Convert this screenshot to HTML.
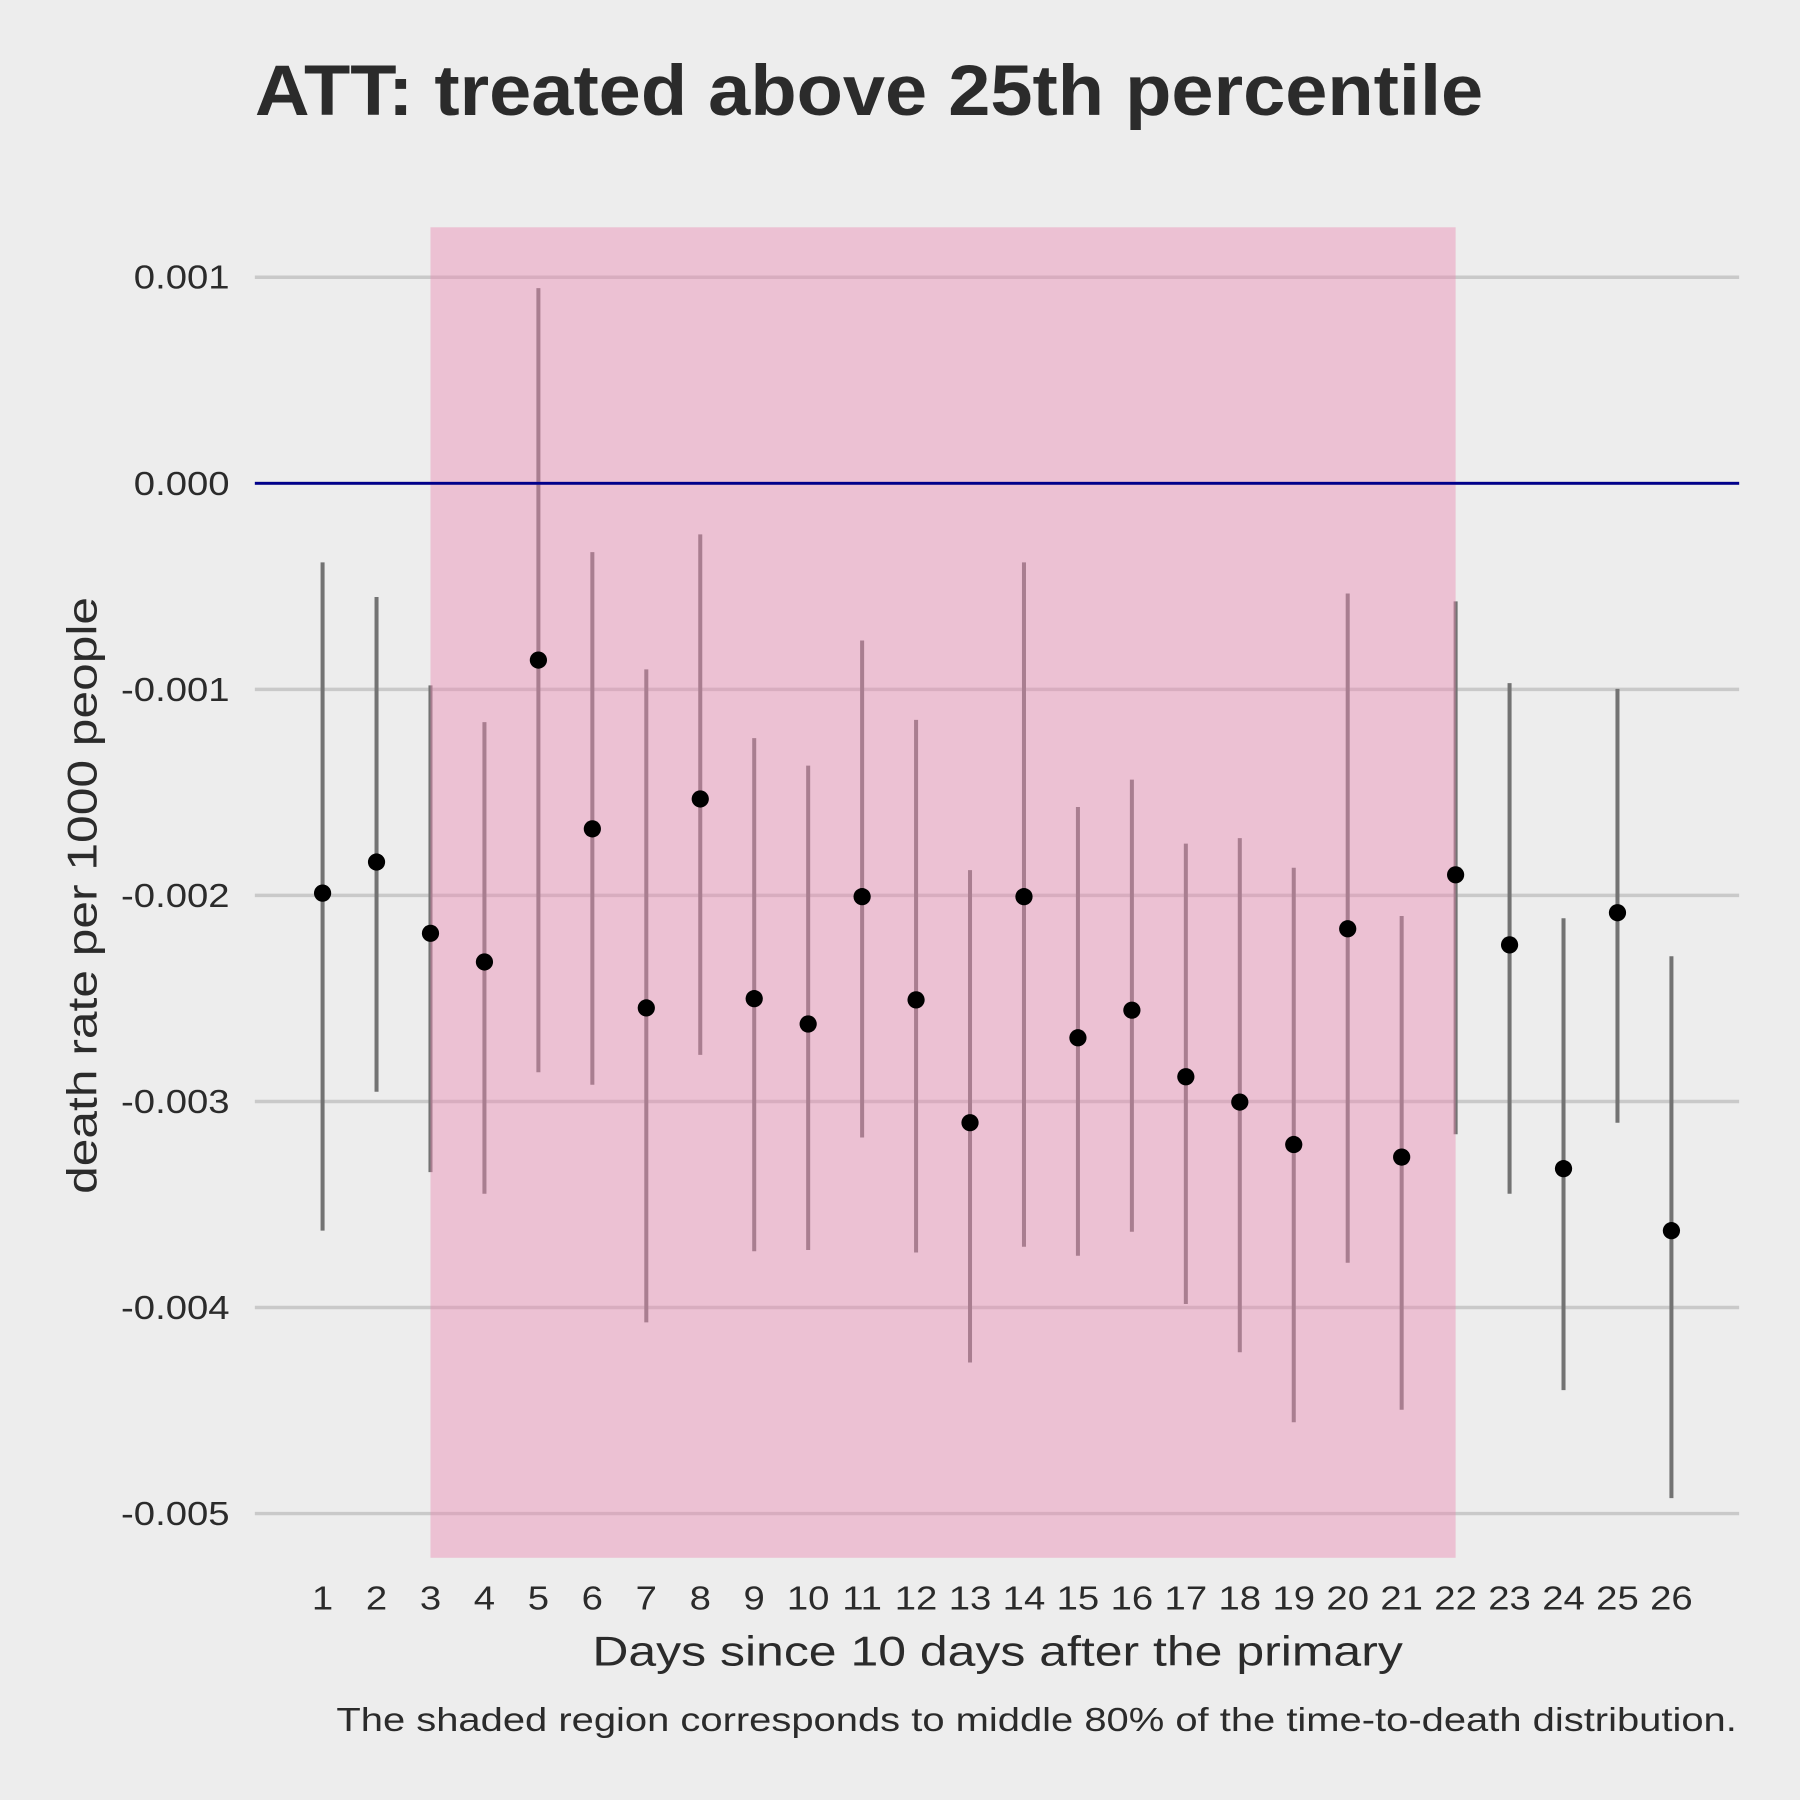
<!DOCTYPE html>
<html><head><meta charset="utf-8"><style>
html,body{margin:0;padding:0;background:#ededed;}
svg{display:block;font-family:"Liberation Sans",sans-serif;}
</style></head><body>
<svg id="chart" width="1800" height="1800" viewBox="0 0 1568 1568" xmlns="http://www.w3.org/2000/svg">
<rect width="1568" height="1568" fill="#ededed"/>
<text x="222" y="100" font-size="62" font-weight="bold" fill="#2b2b2b" textLength="1070" lengthAdjust="spacingAndGlyphs">ATT: treated above 25th percentile</text>
<g id="grid"></g><g id="bars"></g><g id="shade"></g><g id="zero"></g><g id="points"></g><g id="yticks"></g><g id="xticks"></g>
<text x="516" y="1451" font-size="36" fill="#2b2b2b" textLength="706" lengthAdjust="spacingAndGlyphs">Days since 10 days after the primary</text>
<text transform="translate(84,1040) rotate(-90)" font-size="36" fill="#2b2b2b" textLength="520" lengthAdjust="spacingAndGlyphs">death rate per 1000 people</text>
<text x="293" y="1508" font-size="29" fill="#2b2b2b" textLength="1220" lengthAdjust="spacingAndGlyphs">The shaded region corresponds to middle 80% of the time-to-death distribution.</text>
</svg>
<script>
const days = [1,2,3,4,5,6,7,8,9,10,11,12,13,14,15,16,17,18,19,20,21,22,23,24,25,26];
const estimates = [-1.989,-1.838,-2.184,-2.323,-0.858,-1.677,-2.546,-1.532,-2.501,-2.624,-2.006,-2.507,-3.103,-2.006,-2.691,-2.557,-2.880,-3.003,-3.209,-2.162,-3.270,-1.900,-2.240,-3.326,-2.084,-3.627];
const lower = [-3.627,-2.953,-3.343,-3.448,-2.858,-2.919,-4.072,-2.774,-3.727,-3.721,-3.175,-3.733,-4.267,-3.705,-3.749,-3.632,-3.983,-4.217,-4.557,-3.783,-4.496,-3.159,-3.448,-4.401,-3.103,-4.925];
const upper = [-0.384,-0.552,-0.981,-1.159,0.947,-0.334,-0.903,-0.248,-1.237,-1.370,-0.763,-1.148,-1.877,-0.384,-1.571,-1.438,-1.749,-1.722,-1.866,-0.535,-2.100,-0.573,-0.970,-2.111,-0.998,-2.295];
const yTicks = [0.001,0,-0.001,-0.002,-0.003,-0.004,-0.005];
const yTickLabels = ["0.001","0.000","-0.001","-0.002","-0.003","-0.004","-0.005"];
const shadeRange = [3,22];
const NS="http://www.w3.org/2000/svg";
const xs = d => 281 + (d-1)*47;
const ys = v => 421 - v*179500;
function mk(parent,tag,attrs){const e=document.createElementNS(NS,tag);for(const k in attrs)e.setAttribute(k,attrs[k]);document.getElementById(parent).appendChild(e);return e;}
function widen(t,f){const w=t.getComputedTextLength();t.setAttribute('textLength',w*f);t.setAttribute('lengthAdjust','spacingAndGlyphs');}
yTicks.forEach((t,i)=>{
  const l=mk('grid','line',{x1:222,x2:1515,y1:ys(t),y2:ys(t),stroke:'#c9c9c9','stroke-width':3});
  
  
  const tx=mk('yticks','text',{x:200,y:ys(t)+10,'font-size':29,'text-anchor':'end',fill:'#2b2b2b'});
  tx.textContent=yTickLabels[i];
  
  
  widen(tx,1.15);
});
days.forEach((d,i)=>{
  const b=mk('bars','line',{x1:xs(d),x2:xs(d),y1:ys(lower[i]/1000),y2:ys(upper[i]/1000),stroke:'#737373','stroke-width':3.5});
  
  
  const p=mk('points','circle',{cx:xs(d),cy:ys(estimates[i]/1000),r:7.5,fill:'#000'});
  
  
  const t=mk('xticks','text',{x:xs(d),y:1402,'font-size':29,'text-anchor':'middle',fill:'#2b2b2b'});
  t.textContent=d;
  
  
  widen(t,1.15);
});
const s=mk('shade','rect',{x:xs(shadeRange[0]),y:198,width:xs(shadeRange[1])-xs(shadeRange[0]),height:1159,fill:'rgba(235,140,180,0.45)'});


const z=mk('zero','line',{x1:222,x2:1515,y1:ys(0),y2:ys(0),stroke:'#00008b','stroke-width':2.5});


</script>
</body></html>
